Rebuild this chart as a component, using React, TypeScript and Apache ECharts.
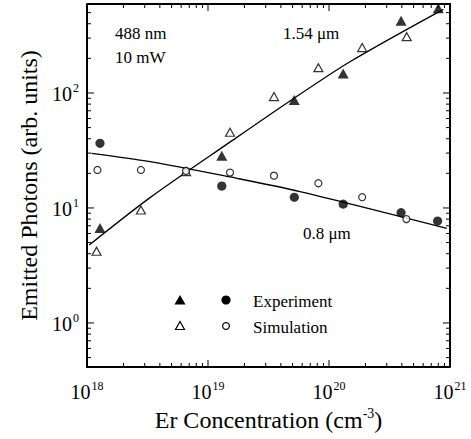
import React, { useEffect, useRef } from "react";
import * as echarts from "echarts";

const X_MIN = 1e18;
const X_MAX = 1e21;
const Y_MIN = 0.414;
const Y_MAX = 594;

// 1.54 um emission
const expConc154 = [1.28e18, 1.3e19, 5.16e19, 1.31e20, 3.94e20, 8.0e20];
const exp154 = [6.7, 28.5, 87, 148, 425, 545];
const simConc154 = [1.2e18, 2.79e18, 6.58e18, 1.52e19, 3.51e19, 8.17e19, 1.88e20, 4.39e20];
const sim154 = [4.2, 9.6, 20.7, 45.5, 93, 166, 248, 309];
const fitConc154 = [1.045e18, 3.32e18, 1.57e19, 4.76e19, 1.49e20, 8.81e20];
const fit154 = [4.77, 12.3, 38.3, 85.2, 187, 534];

// 0.8 um emission
const expConc08 = [1.28e18, 1.3e19, 5.17e19, 1.31e20, 3.94e20, 7.9e20];
const exp08 = [36.5, 15.5, 12.4, 10.8, 9.1, 7.7];
const simConc08 = [1.22e18, 2.79e18, 6.58e18, 1.52e19, 3.51e19, 8.17e19, 1.88e20, 4.36e20];
const sim08 = [21.4, 21.4, 21.0, 20.3, 19.1, 16.4, 12.4, 8.0];
const fitConc08 = [1.09e18, 3.32e18, 1.52e19, 5.75e19, 9.4e20];
const fit08 = [29.9, 25.3, 18.6, 13.9, 6.66];

// tick positions
const X_DECADES = [1e18, 1e19, 1e20, 1e21];
const Y_DECADES = [1, 10, 100];
const X_MINOR: number[] = [];
for (const d of [1e18, 1e19, 1e20]) for (let k = 2; k <= 9; k++) X_MINOR.push(k * d);
const Y_MINOR: number[] = [];
for (const d of [0.1, 1, 10, 100]) for (let k = 2; k <= 9; k++) {
  const v = k * d;
  if (v > Y_MIN && v < Y_MAX) Y_MINOR.push(v);
}

const FONT = "'Liberation Serif', 'Times New Roman', serif";
const zip = (a: number[], b: number[]) => a.map((v, i) => [v, b[i]]);

const pow10Label = (value: number) => {
  const e = Math.log10(value);
  if (Math.abs(e - Math.round(e)) > 1e-6) return "";
  return `{b|10}{s|${Math.round(e)}}`;
};

const labelRich = {
  b: { fontSize: 20, fontFamily: FONT, color: "#000", verticalAlign: "bottom" as const, lineHeight: 22 },
  s: { fontSize: 12, fontFamily: FONT, color: "#000", verticalAlign: "top" as const, lineHeight: 22, padding: [0, 0, 0, 1] },
};

export default function App() {
  const ref = useRef<HTMLDivElement>(null);
  useEffect(() => {
    if (!ref.current) return;
    const chart = echarts.init(ref.current, null, { renderer: "svg" });
    const tickStyle = { stroke: "#000", lineWidth: 1 };
    const xTickItem = (params: any, api: any) => {
      const v = api.value(0);
      const major = api.value(2) === 1;
      const len = major ? 7 : 4;
      const b = api.coord([v, Y_MIN]);
      const t = api.coord([v, Y_MAX]);
      return {
        type: "group",
        children: [
          { type: "line", shape: { x1: b[0], y1: b[1], x2: b[0], y2: b[1] - len }, style: tickStyle },
          { type: "line", shape: { x1: t[0], y1: t[1], x2: t[0], y2: t[1] + len }, style: tickStyle },
        ],
      };
    };
    const yTickItem = (params: any, api: any) => {
      const v = api.value(1);
      const major = api.value(2) === 1;
      const len = major ? 7 : 4;
      const l = api.coord([X_MIN, v]);
      const r = api.coord([X_MAX, v]);
      return {
        type: "group",
        children: [
          { type: "line", shape: { x1: l[0], y1: l[1], x2: l[0] + len, y2: l[1] }, style: tickStyle },
          { type: "line", shape: { x1: r[0], y1: r[1], x2: r[0] - len, y2: r[1] }, style: tickStyle },
        ],
      };
    };
    const xTickData = [
      ...X_DECADES.map((v) => [v, Y_MIN, 1]),
      ...X_MINOR.map((v) => [v, Y_MIN, 0]),
    ];
    const yTickData = [
      ...Y_DECADES.map((v) => [X_MIN, v, 1]),
      ...Y_MINOR.map((v) => [X_MIN, v, 0]),
    ];

    const tri = (x: number, y: number, filled: boolean) => ({
      type: "polygon",
      shape: { points: filled ? [[x, y - 5], [x + 5.5, y + 4.5], [x - 5.5, y + 4.5]] : [[x, y - 4.5], [x + 4.5, y + 3.5], [x - 4.5, y + 3.5]] },
      style: filled ? { fill: "#000" } : { fill: "#fff", stroke: "#000", lineWidth: 1.2 },
    });
    const circ = (x: number, y: number, filled: boolean) => ({
      type: "circle",
      shape: { cx: x, cy: y, r: filled ? 4.6 : 3.4 },
      style: filled ? { fill: "#000" } : { fill: "#fff", stroke: "#000", lineWidth: 1.2 },
    });
    const txt = (x: number, y: number, text: string) => ({
      type: "text",
      x,
      y,
      style: { text, fontSize: 17, fontFamily: FONT, fill: "#000", verticalAlign: "middle", align: "left" },
    });

    chart.setOption({
      animation: false,
      backgroundColor: "#fff",
      grid: { left: 87, right: 21, top: 4, bottom: 72, containLabel: false },
      xAxis: {
        type: "log",
        logBase: 10,
        min: X_MIN,
        max: X_MAX,
        name: "Er Concentration (cm{s|-3})",
        nameLocation: "middle",
        nameGap: 37,
        nameTextStyle: {
          fontSize: 24,
          fontFamily: FONT,
          color: "#000",
          rich: {
            s: { fontSize: 14, fontFamily: FONT, color: "#000", verticalAlign: "top", padding: [0, 0, 12, 0] },
          },
        },
        axisLine: { show: true, onZero: false, lineStyle: { color: "#000", width: 2 } },
        axisTick: { show: false },
        splitLine: { show: false },
        axisLabel: { formatter: pow10Label, rich: labelRich, margin: 13 },
      },
      yAxis: {
        type: "log",
        logBase: 10,
        min: Y_MIN,
        max: Y_MAX,
        name: "Emitted Photons (arb. units)",
        nameLocation: "middle",
        nameGap: 45,
        nameTextStyle: { fontSize: 24, fontFamily: FONT, color: "#000" },
        axisLine: { show: true, onZero: false, lineStyle: { color: "#000", width: 2 } },
        axisTick: { show: false },
        splitLine: { show: false },
        axisLabel: { formatter: pow10Label, rich: labelRich, margin: 8, showMinLabel: false, showMaxLabel: false },
      },
      graphic: [
        {
          type: "polyline",
          shape: { points: [[87, 4], [450, 4], [450, 367]] },
          style: { stroke: "#000", lineWidth: 2, fill: null },
          z: 10,
        },
        txt(115, 33, "488 nm"),
        txt(115, 57, "10 mW"),
        txt(283, 33, "1.54 μm"),
        txt(303, 233, "0.8 μm"),
        tri(180, 300, true),
        circ(226, 300, true),
        tri(180, 326, false),
        circ(226, 326, false),
        txt(253, 301, "Experiment"),
        txt(253, 327, "Simulation"),
      ],
      series: [
        {
          type: "custom",
          renderItem: xTickItem,
          data: xTickData,
          encode: { x: 0, y: 1 },
          silent: true,
          clip: false,
        },
        {
          type: "custom",
          renderItem: yTickItem,
          data: yTickData,
          encode: { x: 0, y: 1 },
          silent: true,
          clip: false,
        },
        {
          name: "fit 1.54",
          type: "line",
          data: zip(fitConc154, fit154),
          showSymbol: false,
          smooth: 0.3,
          lineStyle: { color: "#000", width: 1.3 },
          z: 2,
        },
        {
          name: "fit 0.8",
          type: "line",
          data: zip(fitConc08, fit08),
          showSymbol: false,
          smooth: 0.3,
          lineStyle: { color: "#000", width: 1.3 },
          z: 2,
        },
        {
          name: "Experiment 1.54",
          type: "scatter",
          data: zip(expConc154, exp154),
          symbol: "triangle",
          symbolSize: [11, 10],
          itemStyle: { color: "#000" },
          z: 3,
        },
        {
          name: "Simulation 1.54",
          type: "scatter",
          data: zip(simConc154, sim154),
          symbol: "triangle",
          symbolSize: [9, 8],
          itemStyle: { color: "#fff", borderColor: "#000", borderWidth: 1.2 },
          z: 3,
        },
        {
          name: "Experiment 0.8",
          type: "scatter",
          data: zip(expConc08, exp08),
          symbol: "circle",
          symbolSize: 9.2,
          itemStyle: { color: "#000" },
          z: 3,
        },
        {
          name: "Simulation 0.8",
          type: "scatter",
          data: zip(simConc08, sim08),
          symbol: "circle",
          symbolSize: 7,
          itemStyle: { color: "#fff", borderColor: "#000", borderWidth: 1.2 },
          z: 3,
        },
      ],
    });
    return () => chart.dispose();
  }, []);
  return (
    <div
      ref={ref}
      style={{ position: "fixed", left: 0, top: 0, width: 471, height: 439, background: "#fff" }}
    />
  );
}
